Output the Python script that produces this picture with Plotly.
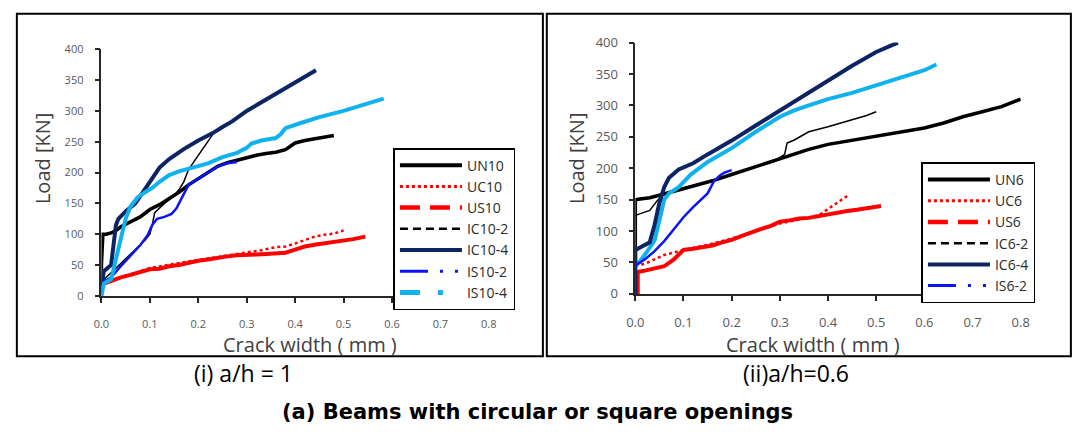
import plotly.graph_objects as go

W, H = 1073, 442

# ---------------- a/h = 1 : load vs crack width ----------------
un10_x = [0, 0, 0.003, 0.01, 0.02, 0.03, 0.04, 0.06, 0.08, 0.10, 0.12, 0.14, 0.16, 0.18, 0.20,
          0.22, 0.24, 0.26, 0.28, 0.30, 0.32, 0.34, 0.36, 0.38, 0.39, 0.40, 0.42, 0.44, 0.46, 0.48]
un10_y = [0, 50, 100, 100, 102, 106, 112, 120, 128, 140, 148, 158, 168, 180, 190,
          200, 210, 216, 220, 225, 228, 231, 233, 237, 243, 248, 252, 255, 258, 260]

uc10_x = [0, 0.05, 0.10, 0.15, 0.20, 0.25, 0.30, 0.33, 0.36, 0.38, 0.40, 0.42, 0.44, 0.46, 0.48, 0.50]
uc10_y = [20, 33, 45, 52, 58, 64, 70, 74, 79, 80, 85, 90, 96, 99, 101, 106]

us10_x = [0, 0.02, 0.04, 0.06, 0.08, 0.10, 0.12, 0.14, 0.16, 0.18, 0.20, 0.22, 0.24, 0.26,
          0.28, 0.30, 0.32, 0.34, 0.36, 0.38, 0.40, 0.42, 0.44, 0.46, 0.48, 0.50, 0.52, 0.545]
us10_y = [18, 24, 30, 34, 38, 43, 44, 48, 50, 54, 57, 59, 62, 64,
          66, 66, 67, 68, 69, 70, 75, 80, 83, 85, 87, 89, 92, 96]

ic10_2_x = [0, 0.01, 0.03, 0.05, 0.07, 0.09, 0.10, 0.105, 0.11, 0.13, 0.15, 0.16, 0.17, 0.18, 0.20, 0.22, 0.23]
ic10_2_y = [20, 30, 45, 60, 75, 90, 100, 115, 135, 150, 162, 172, 185, 205, 228, 250, 262]

ic10_4_x = [0, 0.005, 0.02, 0.03, 0.035, 0.05, 0.07, 0.085, 0.10, 0.12, 0.14, 0.17, 0.20,
            0.23, 0.25, 0.27, 0.30, 0.33, 0.37, 0.40, 0.443]
ic10_4_y = [15, 40, 50, 115, 125, 137, 150, 168, 185, 208, 222, 238, 252,
            264, 274, 283, 300, 314, 332, 346, 366]

is10_2_x = [0, 0.02, 0.04, 0.06, 0.08, 0.095, 0.105, 0.115, 0.13, 0.145, 0.155, 0.17, 0.18,
            0.20, 0.22, 0.24, 0.26, 0.28]
is10_2_y = [20, 30, 48, 65, 82, 98, 115, 125, 128, 133, 142, 165, 180, 190, 200, 210, 215, 217]

is10_4_x = [0, 0.005, 0.02, 0.03, 0.04, 0.05, 0.06, 0.075, 0.09, 0.105, 0.12, 0.14, 0.16, 0.19,
            0.22, 0.25, 0.28, 0.30, 0.31, 0.33, 0.36, 0.37, 0.38, 0.41, 0.45, 0.50, 0.55, 0.583]
is10_4_y = [0, 20, 27, 60, 95, 125, 145, 160, 168, 175, 185, 196, 202, 208,
            215, 225, 232, 240, 247, 252, 256, 262, 272, 280, 290, 300, 312, 320]

# ---------------- a/h = 0.6 : load vs crack width ----------------
un6_x = [0, 0, 0.01, 0.03, 0.05, 0.08, 0.10, 0.13, 0.16, 0.20, 0.24, 0.28, 0.30, 0.33, 0.36,
         0.40, 0.44, 0.48, 0.52, 0.56, 0.60, 0.64, 0.68, 0.72, 0.76, 0.80]
un6_y = [0, 150, 151, 153, 157, 163, 168, 173, 180, 190, 200, 210, 215, 223, 230,
         238, 243, 248, 254, 258, 264, 272, 282, 290, 298, 310]

uc6_x = [0, 0.02, 0.04, 0.06, 0.08, 0.10, 0.15, 0.20, 0.25, 0.30, 0.35, 0.38, 0.40, 0.42, 0.44]
uc6_y = [45, 48, 55, 62, 66, 70, 78, 88, 100, 112, 120, 125, 135, 145, 156]

us6_x = [0.005, 0.005, 0.02, 0.04, 0.06, 0.08, 0.10, 0.12, 0.14, 0.16, 0.18, 0.20, 0.22, 0.24,
         0.26, 0.28, 0.30, 0.32, 0.34, 0.36, 0.38, 0.40, 0.42, 0.44, 0.46, 0.48, 0.51]
us6_y = [0, 35, 37, 40, 44, 55, 70, 72, 74, 77, 82, 86, 92, 98,
         103, 108, 115, 117, 120, 121, 124, 127, 130, 132, 134, 136, 140]

ic6_2_x = [0, 0.01, 0.03, 0.045, 0.06, 0.08, 0.12, 0.16, 0.20, 0.25, 0.29, 0.31, 0.315, 0.33,
           0.36, 0.40, 0.44, 0.48, 0.50]
ic6_2_y = [125, 128, 133, 148, 160, 165, 172, 180, 190, 202, 212, 222, 240, 245,
           258, 266, 275, 284, 290]

ic6_4_x = [0, 0, 0.01, 0.03, 0.04, 0.05, 0.06, 0.07, 0.09, 0.12, 0.15, 0.20, 0.25, 0.30,
           0.35, 0.40, 0.45, 0.50, 0.545]
ic6_4_y = [0, 70, 74, 82, 110, 145, 170, 185, 198, 208, 222, 244, 268, 292,
           316, 340, 363, 385, 400]

is6_2_x = [0, 0.02, 0.04, 0.06, 0.08, 0.10, 0.12, 0.135, 0.15, 0.163, 0.175, 0.185, 0.20]
is6_2_y = [45, 55, 68, 84, 103, 122, 138, 149, 160, 179, 188, 193, 197]

is6_4_x = [0, 0.01, 0.024, 0.04, 0.052, 0.06, 0.07, 0.09, 0.115, 0.15, 0.20, 0.25, 0.30, 0.33,
           0.36, 0.40, 0.45, 0.50, 0.55, 0.60, 0.625]
is6_4_y = [45, 52, 67, 85, 123, 150, 160, 170, 190, 210, 232, 258, 282, 292,
           300, 310, 320, 332, 344, 356, 365]

x_ticks = [0.0, 0.1, 0.2, 0.3, 0.4, 0.5, 0.6, 0.7, 0.8]
y_ticks = [0, 50, 100, 150, 200, 250, 300, 350, 400]

BLACK = "#000000"
RED = "#FF0000"
NAVY = "#0C2463"
BLUE = "#0A14F5"
SKY = "#10B2EE"

# series style: (chart width, chart dash, legend width, legend dash, colour)
STYLE = {
    "UN": (3.5, "solid", 4, "solid", BLACK),
    "UC": (2.5, "dot", 3, "dot", RED),
    "US": (4, "solid", 4.5, "20px,10px,20px,10px,4px,10px", RED),
    "IC2": (1.5, "solid", 2.5, "8px,5px", BLACK),
    "IC4": (4, "solid", 4, "solid", NAVY),
    "IS2": (2.5, "solid", 3, "28px,12px,3px,12px,3px,12px", BLUE),
    "IS4": (4, "solid", 5, "20px,18px,5px,40px", SKY),
}

fig = go.Figure()


def add_series(name, key, xs, ys, xa, ya, legend, in_legend=True):
    cw, cd, lw, ld, col = STYLE[key]
    fig.add_trace(go.Scatter(
        x=xs, y=ys, mode="lines", name=name,
        line=dict(color=col, width=cw, dash=cd),
        xaxis=xa, yaxis=ya, showlegend=False, legend=legend))
    if in_legend:
        # legend-only entry carrying the dash pattern of the series
        fig.add_trace(go.Scatter(
            x=[None], y=[None], mode="lines", name=name,
            line=dict(color=col, width=lw, dash=ld),
            xaxis=xa, yaxis=ya, showlegend=True, legend=legend))


add_series("UN10", "UN", un10_x, un10_y, "x", "y", "legend")
add_series("UC10", "UC", uc10_x, uc10_y, "x", "y", "legend")
add_series("US10", "US", us10_x, us10_y, "x", "y", "legend")
add_series("IC10-2", "IC2", ic10_2_x, ic10_2_y, "x", "y", "legend")
add_series("IC10-4", "IC4", ic10_4_x, ic10_4_y, "x", "y", "legend")
add_series("IS10-2", "IS2", is10_2_x, is10_2_y, "x", "y", "legend")
add_series("IS10-4", "IS4", is10_4_x, is10_4_y, "x", "y", "legend")

add_series("UN6", "UN", un6_x, un6_y, "x2", "y2", "legend2")
add_series("UC6", "UC", uc6_x, uc6_y, "x2", "y2", "legend2")
add_series("US6", "US", us6_x, us6_y, "x2", "y2", "legend2")
add_series("IC6-2", "IC2", ic6_2_x, ic6_2_y, "x2", "y2", "legend2")
add_series("IS6-4", "IS4", is6_4_x, is6_4_y, "x2", "y2", "legend2", in_legend=False)
add_series("IC6-4", "IC4", ic6_4_x, ic6_4_y, "x2", "y2", "legend2")
add_series("IS6-2", "IS2", is6_2_x, is6_2_y, "x2", "y2", "legend2")


def px_x(p):
    return p / W


def px_y(p):
    return (H - p) / H


FONT = "'Open Sans', Lato, sans-serif"
TICK_COL = "#595959"
AX_COL = "#262626"


def axis_common(size, standoff):
    return dict(showline=True, linecolor=AX_COL, linewidth=1.5, ticks="outside",
                ticklen=5, tickwidth=1.5, tickcolor=AX_COL, showgrid=False,
                zeroline=False, tickfont=dict(family=FONT, size=size, color=TICK_COL),
                ticklabelstandoff=standoff, fixedrange=True)


legend_common = dict(xanchor="left", yanchor="top", bgcolor="white",
                     bordercolor=BLACK, borderwidth=1.5, itemwidth=62,
                     tracegroupgap=0,
                     font=dict(family=FONT, size=14, color="#2b2b2b"),
                     itemclick=False, itemdoubleclick=False)

fig.update_layout(
    width=W, height=H, margin=dict(l=0, r=0, t=0, b=0),
    paper_bgcolor="white", plot_bgcolor="white",
    xaxis=dict(domain=[px_x(94), px_x(488)], range=[0, 0.8], anchor="y",
               tickvals=x_ticks, tickformat=".1f", **axis_common(11, 12)),
    yaxis=dict(domain=[px_y(299), px_y(42)], range=[0, 400], anchor="x",
               tickvals=y_ticks, **axis_common(11, 9)),
    xaxis2=dict(domain=[px_x(637), px_x(1029)], range=[0, 0.8], anchor="y2",
                tickvals=x_ticks, tickformat=".1f", **axis_common(13, 11)),
    yaxis2=dict(domain=[px_y(297), px_y(35)], range=[0, 400], anchor="x2",
                tickvals=y_ticks, **axis_common(13, 8)),
    legend=dict(x=px_x(391), y=px_y(145), **legend_common),
    legend2=dict(x=px_x(928), y=px_y(160), entrywidth=70, **legend_common),
    showlegend=True,
)

# panel frames
fig.add_shape(type="rect", xref="paper", yref="paper",
              x0=px_x(8), x1=px_x(543), y0=px_y(362), y1=px_y(5),
              line=dict(color=BLACK, width=2), layer="below")
fig.add_shape(type="rect", xref="paper", yref="paper",
              x0=px_x(547), x1=px_x(1080), y0=px_y(362), y1=px_y(5),
              line=dict(color=BLACK, width=2), layer="below")

TITLE_COL = "#404040"
annots = [
    dict(text="Load [KN]", x=px_x(34), y=px_y(156), textangle=-90, size=20, col=TITLE_COL),
    dict(text="Crack width ( mm )", x=px_x(306), y=px_y(350), size=20, col=TITLE_COL),
    dict(text="Load [KN]", x=px_x(577), y=px_y(156), textangle=-90, size=20, col=TITLE_COL),
    dict(text="Crack width ( mm )", x=px_x(818), y=px_y(350), size=20, col=TITLE_COL),
    dict(text="(i) a/h = 1", x=px_x(238), y=px_y(379), size=23, col="#000000"),
    dict(text="(ii)a/h=0.6", x=px_x(800), y=px_y(379), size=23, col="#000000"),
]
for a in annots:
    fig.add_annotation(text=a["text"], x=a["x"], y=a["y"], xref="paper", yref="paper",
                       showarrow=False, xanchor="center", yanchor="middle",
                       textangle=a.get("textangle", 0),
                       font=dict(family=FONT, size=a["size"], color=a["col"]))

fig.add_annotation(text="<b>(a) Beams with circular or square openings</b>",
                   x=px_x(538), y=px_y(420), xref="paper", yref="paper",
                   showarrow=False, xanchor="center", yanchor="middle",
                   font=dict(family="'DejaVu Sans', Arial, sans-serif", size=21,
                             color="#000000"))

fig.write_html("out.html")
